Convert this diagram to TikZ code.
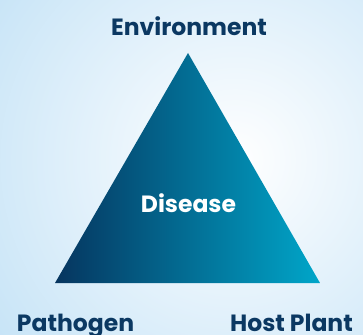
\documentclass[tikz,border=0pt]{standalone}
\usepackage{fontspec}
\setmainfont{Poppins}
\definecolor{bgblue}{HTML}{A6D4F2}
\definecolor{navytext}{HTML}{0B3862}
\definecolor{trileft}{HTML}{06355F}
\definecolor{triright}{HTML}{00A6C9}
\tikzset{
  label/.style={font=\bfseries\fontsize{23.5}{27}\selectfont, text=navytext, inner sep=0pt, anchor=base},
  centerlabel/.style={label, text=white}
}
\begin{document}
\begin{tikzpicture}[x=1pt,y=-1pt]
\useasboundingbox (0,0) rectangle (363,334);
\begin{scope}
\clip (0,0) rectangle (363,334);
\shade[inner color=white, outer color=bgblue] (235,160) circle (470);
\end{scope}
\coordinate (apex) at (188,53);
\coordinate (bl) at (55,283);
\coordinate (br) at (320,283);
\shade[left color=trileft, right color=triright] (apex) -- (br) -- (bl) -- cycle;
\node[label] (env) at (189,36) {Environment};
\node[centerlabel] (dis) at (188.5,212.5) {Disease};
\node[label] (pat) at (75.5,331) {Pathogen};
\node[label] (host) at (291.5,331) {Host Plant};
\end{tikzpicture}
\end{document}
